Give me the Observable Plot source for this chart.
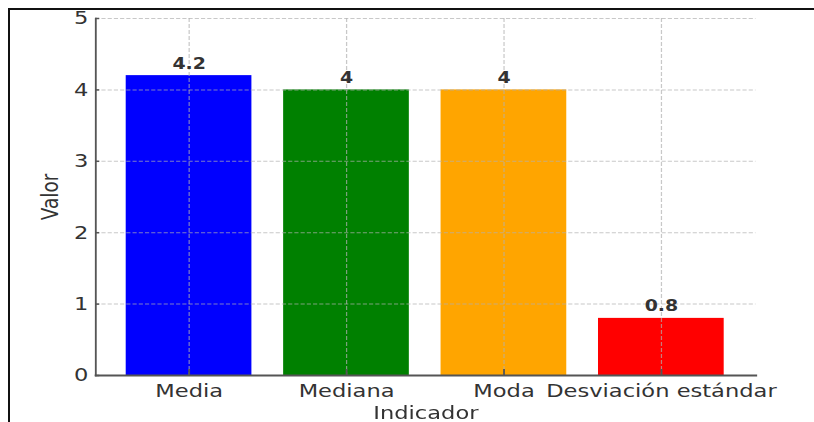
<!DOCTYPE html>
<html>
<head>
<meta charset="utf-8">
<script src="https://cdn.jsdelivr.net/npm/d3@7"></script>
<script src="https://cdn.jsdelivr.net/npm/@observablehq/plot@0.6"></script>
<style>
  html, body { margin: 0; padding: 0; background: #fff; overflow: hidden; width: 814px; height: 422px; }
  #chart { position: absolute; left: 0; top: 0; width: 667px; height: 422px; transform: scaleX(1.2204); transform-origin: 0 0; }
  #frame { position: absolute; left: 8px; top: 8px; width: 806px; height: 414px; box-sizing: border-box;
           border-top: 2.5px solid #111; border-left: 2.5px solid #111; pointer-events: none; }
</style>
</head>
<body>
<div id="chart"></div>
<div id="frame"></div>
<script>
// ---- data ----
const categories = ["Media", "Mediana", "Moda", "Desviación estándar"];
const values = [4.2, 4, 4, 0.8];
const yTicks = [0, 1, 2, 3, 4, 5];
const barColors = ["#0000ff", "#008000", "#ffa500", "#ff0000"];
const xTitle = "Indicador";
const yTitle = "Valor";

const data = categories.map((c, i) => ({indicador: c, valor: values[i]}));

const font = "DejaVu Sans";
const axisColor = "#555";
const textColor = "#333";

const plot = Plot.plot({
  width: 667,
  height: 422,
  marginLeft: 78,
  marginRight: 48,
  marginTop: 18,
  marginBottom: 47,
  style: {fontFamily: font, background: "white", overflow: "visible", color: textColor},
  x: {domain: categories, paddingInner: 0.2, paddingOuter: 0.19, label: null},
  y: {domain: [0, 5], label: null},
  color: {domain: categories, range: barColors},
  marks: [
    Plot.barY(data, {x: "indicador", y: "valor", fill: "indicador"}),
    Plot.gridY(yTicks, {stroke: "#b0b0b0", strokeOpacity: 0.7, strokeWidth: 1, strokeDasharray: "3.4,1.7"}),
    Plot.gridX(categories, {stroke: "#b0b0b0", strokeOpacity: 0.7, strokeWidth: 1, strokeDasharray: "4,2"}),
    // spines
    Plot.frame({anchor: "left", stroke: axisColor, strokeWidth: 1.5}),
    Plot.frame({anchor: "bottom", stroke: axisColor, strokeWidth: 1.8}),
    // inward ticks
    Plot.axisY(yTicks, {tickSize: -3.3, tickFormat: () => "", stroke: axisColor, strokeWidth: 1.5, label: null}),
    Plot.axisX(categories, {tickSize: -6, tickFormat: () => "", stroke: axisColor, strokeWidth: 1.5, label: null}),
    // tick labels
    Plot.axisY(yTicks, {tickSize: 0, tickPadding: 6, tickFormat: d => String(d), fontSize: 18.5, fill: textColor, label: null}),
    Plot.axisX(categories, {tickSize: 0, tickPadding: 8, fontSize: 18.5, fill: textColor, label: null}),
    // value labels
    Plot.text(data, {x: "indicador", y: "valor", text: d => String(d.valor), dy: -12,
      fontSize: 15.5, fontWeight: "bold", fill: textColor}),
    // axis titles
    Plot.text([yTitle], {frameAnchor: "left", textAnchor: "middle", dx: -37, rotate: -90, fontSize: 18.5, fill: textColor}),
    Plot.text([xTitle], {frameAnchor: "bottom", dy: 43, fontSize: 18.5, fill: textColor})
  ]
});

document.getElementById("chart").appendChild(plot);
</script>
</body>
</html>
